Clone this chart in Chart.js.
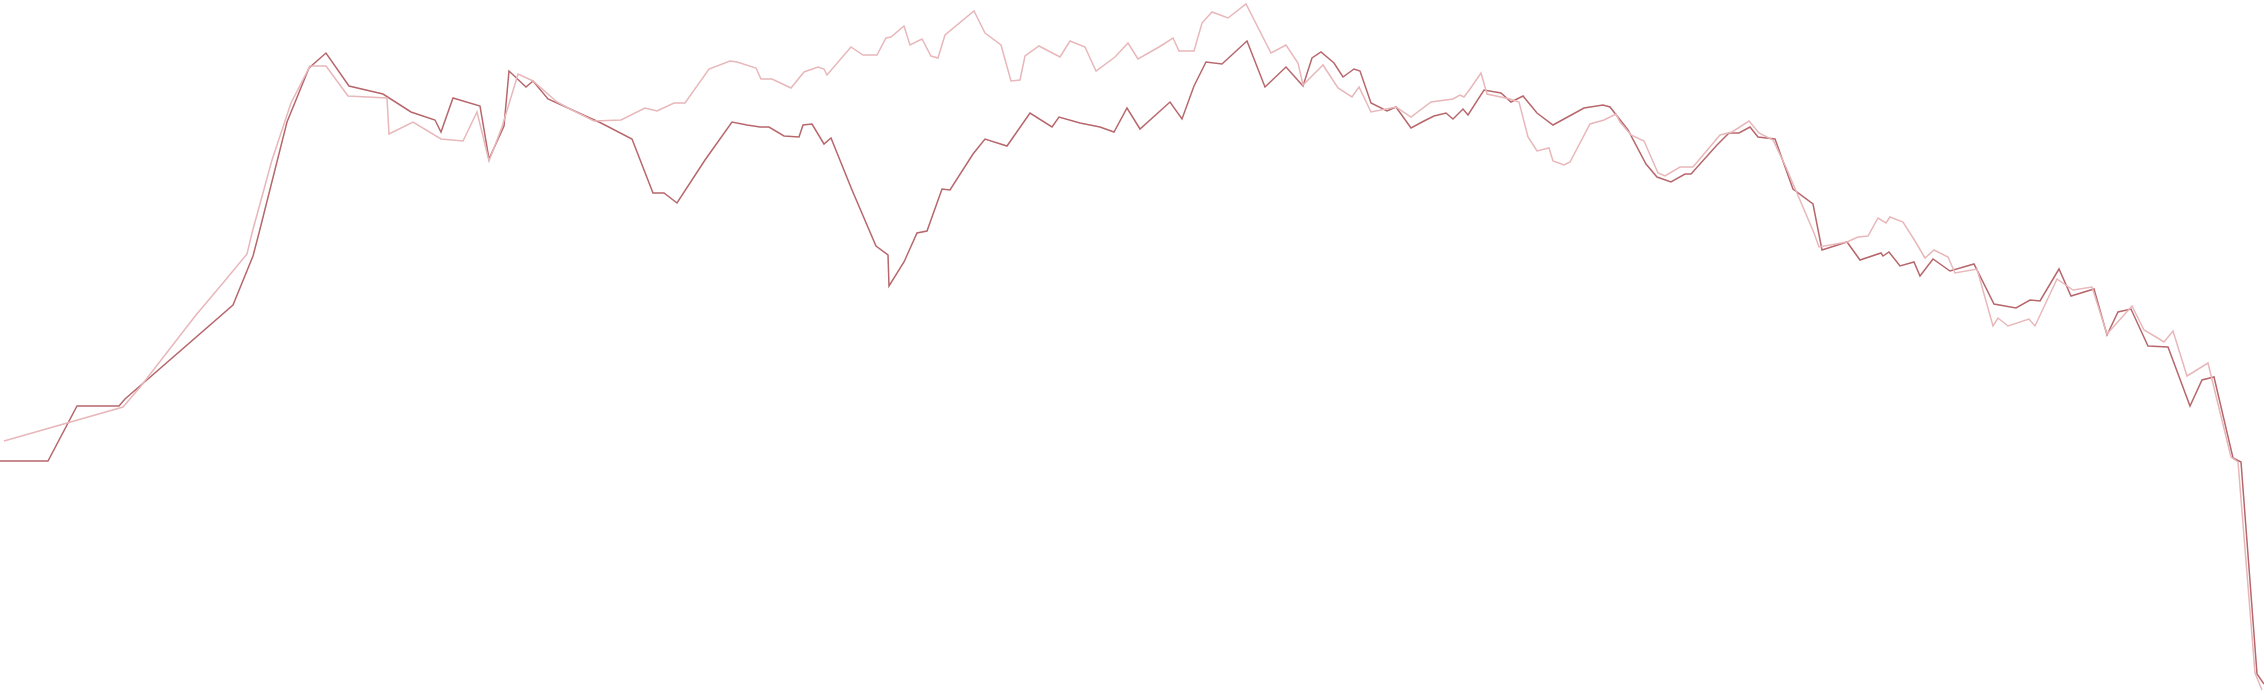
<!DOCTYPE html>
<html>
<head>
<meta charset="utf-8">
<script src="https://cdn.jsdelivr.net/npm/chart.js@4"></script>
<style>
  html, body { margin: 0; padding: 0; background: #fff; }
  #wrap { width: 2264px; height: 694px; }
</style>
</head>
<body>
<div id="wrap"><canvas id="lineChart"></canvas></div>
<script>
// serie oscura
const darkX = [0,4.8,7.7,11.9,12.5,23.3,25.3,25.9,28.7,30.9,32.6,34.9,38.3,41.1,43.5,44.1,45.3,48.0,48.9,50.4,50.9,52.6,53.3,54.8,60.1,63.2,65.3,66.4,67.7,70.5,73.2,74.7,76.0,76.9,78.4,79.9,80.3,81.2,82.4,83.1,85.2,87.6,88.8,88.9,90.4,91.7,92.7,94.2,95.0,97.3,98.5,100.7,103.0,105.2,105.9,108.0,110.0,111.4,112.7,114.0,117.0,118.2,119.4,120.6,122.2,124.7,126.5,128.6,130.3,131.2,132.1,133.4,134.3,135.4,136.0,137.1,138.7,139.6,141.1,142.4,143.4,144.6,145.3,146.3,146.8,148.4,150.1,151.1,152.3,153.7,155.3,158.4,160.3,161.0,162.8,164.6,165.7,167.1,168.5,169.1,171.7,172.9,173.9,175.0,175.8,177.5,179.3,181.3,182.2,184.7,186.0,188.1,188.3,188.9,190.0,191.4,192.0,193.3,195.0,197.4,199.4,201.6,203.0,204.0,205.9,207.1,209.4,210.7,211.8,213.1,214.8,216.8,219.0,220.2,221.4,223.3,224.1,225.7,226.4];
const darkY = [23.3,23.3,28.8,28.8,29.5,38.9,43.8,46.1,57.2,62.6,64.1,60.8,60.0,58.2,57.4,56.2,59.6,58.8,53.5,56.8,62.3,60.7,61.3,59.5,57.1,55.5,50.1,50.1,49.1,53.4,57.2,56.9,56.7,56.7,55.8,55.7,56.9,57.0,55.0,55.6,50.4,44.8,43.9,40.8,43.2,46.1,46.3,50.5,50.4,54.0,55.5,54.8,58.1,56.7,57.7,57.1,56.7,56.2,58.6,56.5,59.2,57.5,60.8,63.2,63.0,65.3,60.7,62.7,60.8,63.6,64.2,63.1,61.7,62.5,62.3,59.1,58.3,58.7,56.6,57.3,57.8,58.1,57.5,58.5,57.9,60.4,60.1,59.2,59.8,58.1,56.9,58.6,58.9,58.7,56.4,53.0,51.7,51.2,52.0,52.0,54.9,56.1,56.1,56.7,55.7,55.5,50.5,49.0,44.4,45.2,43.4,44.1,43.8,44.2,42.8,43.2,41.8,43.5,42.3,43.0,39.0,38.6,39.4,39.3,42.5,39.8,40.5,35.9,38.2,38.5,34.8,34.7,28.8,31.4,31.7,23.6,23.2,2.0,1.0];

// serie clara
const lightX = [0.4,12.3,14.1,19.6,22.3,24.7,25.2,27.2,29.1,31.0,32.6,34.8,38.7,38.9,41.3,44.1,46.3,47.7,48.9,50.2,51.8,53.3,55.7,57.2,59.4,62.1,64.5,65.7,67.4,68.5,70.9,73.0,73.7,75.6,76.1,77.2,79.1,80.4,81.8,82.4,82.7,85.1,86.3,87.7,88.6,89.1,90.4,91.0,92.2,93.1,93.8,94.5,97.4,98.5,100.1,101.1,102.0,102.5,103.9,106.0,107.0,108.5,109.6,111.5,112.8,113.8,115.9,117.3,117.9,119.4,120.2,121.2,122.8,124.6,127.1,128.6,129.8,130.3,132.3,133.8,135.2,135.9,137.1,139.6,141.1,143.1,145.3,146.0,146.4,147.0,148.1,148.7,151.0,151.9,152.8,153.7,154.9,155.3,156.4,157.0,159.0,160.4,161.6,162.0,163.1,164.4,165.8,166.5,168.0,169.3,172.0,173.2,174.9,175.9,177.3,178.5,181.4,181.9,184.7,185.8,186.8,187.8,188.6,189.0,190.3,191.5,192.5,193.4,194.8,195.5,197.7,199.3,199.8,200.8,202.9,203.5,205.7,207.3,209.2,210.7,213.2,214.4,215.6,216.4,217.3,218.7,220.8,221.7,223.1,223.8,225.5,226.2];
const lightY = [25.3,28.7,30.8,37.9,41.1,44.0,46.1,53.4,59.1,62.8,62.8,59.8,59.6,56.0,57.2,55.5,55.3,58.2,53.3,56.7,62.0,61.3,59.2,58.4,57.3,57.4,58.6,58.3,59.1,59.1,62.5,63.3,63.2,62.6,61.5,61.5,60.6,62.2,62.7,62.5,61.9,64.7,63.9,63.9,65.6,65.7,66.8,64.9,65.5,63.8,63.6,65.9,68.3,66.1,64.9,61.3,61.4,63.8,64.8,63.7,65.3,64.7,62.3,63.7,65.1,63.5,64.7,65.6,64.3,64.3,67.1,68.2,67.6,69.0,64.1,64.9,63.1,60.9,62.9,60.6,59.7,60.7,58.2,58.7,57.7,59.2,59.5,59.9,59.7,60.5,62.1,60.0,59.5,59.2,55.7,54.3,54.6,53.3,52.9,53.2,57.0,57.4,58.0,57.2,55.9,55.3,52.1,51.8,52.7,52.7,55.9,56.2,57.3,56.1,55.4,52.9,46.1,44.7,45.2,45.7,45.8,47.6,47.1,47.7,47.2,45.3,43.6,44.4,43.7,42.1,42.5,36.8,37.6,36.8,37.5,36.8,41.5,40.4,40.7,36.0,38.8,36.4,35.7,35.2,36.3,31.8,33.1,29.4,23.7,23.2,2.1,0.4];

const toPoints = (xs, ys) => xs.map((x, i) => ({ x: x, y: ys[i] }));

new Chart(document.getElementById("lineChart").getContext("2d"), {
  type: "line",
  data: {
    datasets: [
      {
        label: "Serie A",
        data: toPoints(lightX, lightY),
        borderColor: "#e8b7ba",
        borderWidth: 1.5,
        pointRadius: 0,
        fill: false,
        tension: 0,
      },
      {
        label: "Serie B",
        data: toPoints(darkX, darkY),
        borderColor: "#b7676c",
        borderWidth: 1.5,
        pointRadius: 0,
        fill: false,
        tension: 0,
      },
    ],
  },
  options: {
    responsive: true,
    maintainAspectRatio: false,
    animation: false,
    layout: { padding: 0 },
    plugins: {
      legend: { display: false },
      tooltip: { enabled: false },
    },
    scales: {
      x: { type: "linear", min: 0, max: 226.4, display: false },
      y: { min: 0, max: 69.4, display: false },
    },
  },
});
</script>
</body>
</html>
